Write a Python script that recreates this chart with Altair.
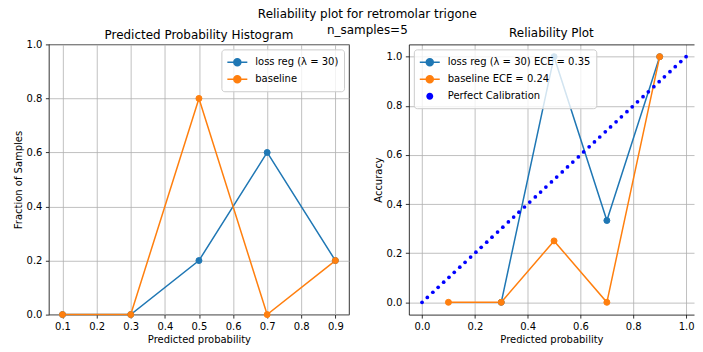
import altair as alt
import pandas as pd

# ---- data ----
bins = [0.1, 0.3, 0.5, 0.7, 0.9]
hist_lossreg = [0.0, 0.0, 0.2, 0.6, 0.2]
hist_baseline = [0.0, 0.0, 0.8, 0.0, 0.2]
acc_lossreg = [None, 0.0, 1.0, 0.333, 1.0]
acc_baseline = [0.0, 0.0, 0.25, 0.0, 1.0]
calib = [0.0, 0.02, 0.041, 0.061, 0.082, 0.102, 0.122, 0.143, 0.163, 0.184,
         0.204, 0.224, 0.245, 0.265, 0.286, 0.306, 0.327, 0.347, 0.367, 0.388,
         0.408, 0.429, 0.449, 0.469, 0.49, 0.51, 0.531, 0.551, 0.571, 0.592,
         0.612, 0.633, 0.653, 0.673, 0.694, 0.714, 0.735, 0.755, 0.776, 0.796,
         0.816, 0.837, 0.857, 0.878, 0.898, 0.918, 0.939, 0.959, 0.98, 1.0]

left_names = ["loss reg (λ = 30)", "baseline"]
right_names = ["loss reg (λ = 30) ECE = 0.35", "baseline ECE = 0.24", "Perfect Calibration"]
x_ticks_left = [0.1, 0.2, 0.3, 0.4, 0.5, 0.6, 0.7, 0.8, 0.9]
ticks_01 = [0.0, 0.2, 0.4, 0.6, 0.8, 1.0]

BLUE = "#1f77b4"
ORANGE = "#ff7f0e"
FONT = "DejaVu Sans"
H = 271

left_df = pd.DataFrame({
    "x": bins * 2,
    "y": hist_lossreg + hist_baseline,
    "series": [left_names[0]] * 5 + [left_names[1]] * 5,
})
right_df = pd.DataFrame({
    "x": bins * 2,
    "y": acc_lossreg + acc_baseline,
    "series": [right_names[0]] * 5 + [right_names[1]] * 5,
})
calib_df = pd.DataFrame({"x": calib, "y": calib, "series": right_names[2]})

# legend glyph: a short line with a dot in the middle (matplotlib style handle)
SYM = "M-1.43,0L1.43,0M0.5,0A0.5,0.5,0,1,1,-0.5,0A0.5,0.5,0,1,1,0.5,0Z"


def legend(orient):
    return alt.Legend(
        title=None, orient=orient, offset=5, symbolType=SYM, symbolSize=196,
        symbolStrokeWidth=1.5, symbolOffset=3, labelFont=FONT, labelFontSize=10,
        labelColor="black", fillColor="rgba(255,255,255,0.8)", strokeColor="#cccccc",
        cornerRadius=3, padding=5, rowPadding=2, labelOffset=10, symbolOpacity=1,
    )


def sub_title(text, offset):
    return alt.TitleParams(text, fontSize=12, font=FONT, fontWeight="normal",
                           color="black", offset=offset, frame="group")


# ---- left panel ----
lx = alt.X("x:Q", scale=alt.Scale(domain=[0.06, 0.94], nice=False, zero=False),
           axis=alt.Axis(values=x_ticks_left, format=".1f", title="Predicted probability", domain=False))
ly = alt.Y("y:Q", scale=alt.Scale(domain=[0, 1], nice=False),
           axis=alt.Axis(values=ticks_01, format=".1f", title="Fraction of Samples", domain=False))
lcolor = alt.Scale(domain=left_names, range=[BLUE, ORANGE])

left_lines = alt.Chart(left_df).mark_line(strokeWidth=1.5).encode(
    x=lx, y=ly, stroke=alt.Stroke("series:N", scale=lcolor, legend=legend("top-right")))
left_pts = alt.Chart(left_df).mark_point(filled=True, size=36, strokeWidth=1, opacity=1).encode(
    x=lx, y=ly,
    fill=alt.Fill("series:N", scale=lcolor, legend=legend("top-right")),
    stroke=alt.Stroke("series:N", scale=lcolor, legend=legend("top-right")))
left = alt.layer(left_lines, left_pts).properties(
    width=301, height=H,
    title=sub_title("Predicted Probability Histogram", -3),
    view=alt.ViewBackground(stroke="black", strokeWidth=0.8),
)

# ---- right panel (right spine falls outside the picture in the reference) ----
RW = 286
rxs = alt.Scale(domain=[-0.05, 1.03], nice=False, zero=False)
rx = alt.X("x:Q", scale=rxs,
           axis=alt.Axis(values=ticks_01, format=".1f", title="Predicted probability"))
rx_top = alt.X("x:Q", scale=rxs,
               axis=alt.Axis(orient="top", labels=False, ticks=False, grid=False, title=None, domain=True))
ry = alt.Y("y:Q", scale=alt.Scale(domain=[-0.05, 1.05], nice=False, zero=False),
           axis=alt.Axis(values=ticks_01, format=".1f", title="Accuracy"))
rcolor_stroke = alt.Scale(domain=right_names, range=[BLUE, ORANGE, "rgba(0,0,255,0)"])
rcolor_fill = alt.Scale(domain=right_names, range=[BLUE, ORANGE, "#0000ff"])

right_lines = alt.Chart(right_df).mark_line(strokeWidth=1.5).encode(
    x=rx, y=ry, stroke=alt.Stroke("series:N", scale=rcolor_stroke, legend=legend("top-left")))
right_pts = alt.Chart(right_df).mark_point(filled=True, size=36, strokeWidth=1, opacity=1).encode(
    x=rx, y=ry,
    fill=alt.Fill("series:N", scale=rcolor_fill, legend=legend("top-left")),
    stroke=alt.Stroke("series:N", scale=rcolor_stroke, legend=legend("top-left")))
right_main = alt.layer(right_lines, right_pts)
right_calib = alt.Chart(calib_df).mark_point(filled=True, size=14, opacity=1).encode(
    x=rx_top, y=ry,
    fill=alt.Fill("series:N", scale=rcolor_fill, legend=legend("top-left")),
    stroke=alt.Stroke("series:N", scale=rcolor_stroke, legend=legend("top-left")))
right = alt.layer(right_main, right_calib).resolve_axis(x="independent").properties(
    width=RW, height=H,
    title=sub_title("Reliability Plot", 4),
    view=alt.ViewBackground(stroke=None),
)

chart = alt.hconcat(left, right, spacing=23).resolve_scale(
    fill="independent", stroke="independent").resolve_legend(
    fill="independent", stroke="independent").properties(
    title=alt.TitleParams(["Reliability plot for retromolar trigone", "n_samples=5"],
                          fontSize=12, font=FONT, fontWeight="normal", color="black",
                          anchor="middle", lineHeight=16, offset=-10, dx=14),
    padding={"left": 4, "top": 0, "right": 0, "bottom": 0},
).configure_axis(
    labelFont=FONT, labelFontSize=10, labelColor="black",
    titleFont=FONT, titleFontSize=10, titleFontWeight="normal", titleColor="black",
    tickColor="black", tickSize=3.5, tickWidth=0.8, domainColor="black", domainWidth=0.8,
    gridColor="#b0b0b0", gridWidth=0.8, labelPadding=3.5, titlePadding=3,
).configure_view(stroke="black", strokeWidth=0.8)

chart.save("out.html", embed_options={"renderer": "svg", "actions": False})
